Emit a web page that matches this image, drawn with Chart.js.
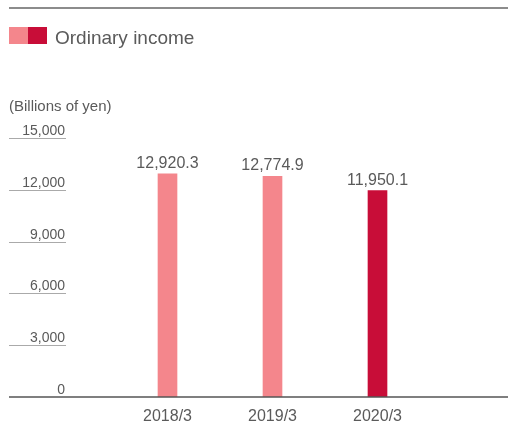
<!DOCTYPE html>
<html>
<head>
<meta charset="utf-8">
<script src="https://cdn.jsdelivr.net/npm/chart.js@4"></script>
<style>
  html, body { margin: 0; padding: 0; background: #fff; }
  #wrap { width: 508px; height: 423px; position: relative; }
</style>
</head>
<body>
<div id="wrap"><canvas id="ordinary_income_chart"></canvas></div>
<script>
// Data
const categories = ["2018/3", "2019/3", "2020/3"];
const ordinary_income = [12920.3, 12774.9, 11950.1];
const value_labels = ["12,920.3", "12,774.9", "11,950.1"];
const y_ticks = [0, 3000, 6000, 9000, 12000, 15000];
const legend_label = "Ordinary income";
const unit_label = "(Billions of yen)";

const light_red = "#f4868c";
const dark_red = "#c80d38";
const text_grey = "#5a5a5a";
const font_family = "'Liberation Sans', Arial, sans-serif";

// past years light, latest year dark
const bar_colors = categories.map((c, i) => (i == categories.length - 1) ? dark_red : light_red);

// draws the legend, unit label, short y grid lines and value labels
const decor_plugin = {
  id: "decor",
  afterDraw(chart) {
    const ctx = chart.ctx;
    const y = chart.scales.y;
    const w = chart.width;
    ctx.save();

    // top rule
    ctx.strokeStyle = "#666";
    ctx.lineWidth = 1.5;
    ctx.beginPath();
    ctx.moveTo(9, 8);
    ctx.lineTo(w, 8);
    ctx.stroke();

    // legend: two-tone swatch
    ctx.fillStyle = light_red;
    ctx.fillRect(9, 27, 19, 17);
    ctx.fillStyle = dark_red;
    ctx.fillRect(28, 27, 19, 17);
    ctx.fillStyle = text_grey;
    ctx.font = "19px " + font_family;
    ctx.textAlign = "left";
    ctx.textBaseline = "alphabetic";
    ctx.fillText(legend_label, 55, 44);

    // unit
    ctx.font = "15px " + font_family;
    ctx.fillText(unit_label, 9, 111);

    // y ticks: short lines with label on top
    ctx.font = "14px " + font_family;
    ctx.textAlign = "right";
    y_ticks.forEach(v => {
      const py = y.getPixelForValue(v);
      if (v == 0) {
        ctx.strokeStyle = "#555";
        ctx.lineWidth = 1.5;
        ctx.beginPath();
        ctx.moveTo(9, py);
        ctx.lineTo(w, py);
        ctx.stroke();
      } else {
        ctx.strokeStyle = "#aaa";
        ctx.lineWidth = 1;
        ctx.beginPath();
        ctx.moveTo(9, Math.round(py) + 0.5);
        ctx.lineTo(66, Math.round(py) + 0.5);
        ctx.stroke();
      }
      ctx.fillStyle = text_grey;
      ctx.fillText(v.toLocaleString("en-US"), 65, py - 3);
    });

    // value labels above bars
    ctx.font = "16px " + font_family;
    ctx.textAlign = "center";
    const meta = chart.getDatasetMeta(0);
    meta.data.forEach((bar, i) => {
      ctx.fillText(value_labels[i], bar.x, bar.y - 6);
    });

    ctx.restore();
  }
};

new Chart(document.getElementById("ordinary_income_chart").getContext("2d"), {
  type: "bar",
  data: {
    labels: categories,
    datasets: [{
      label: legend_label,
      data: ordinary_income,
      backgroundColor: bar_colors,
      borderWidth: 0,
      barThickness: 19
    }]
  },
  options: {
    responsive: true,
    maintainAspectRatio: false,
    animation: false,
    layout: { padding: { top: 138, left: 115, right: 78, bottom: 0 } },
    plugins: {
      legend: { display: false },
      tooltip: { enabled: false }
    },
    scales: {
      y: {
        display: false,
        min: 0,
        max: 15000
      },
      x: {
        grid: { display: false, drawTicks: false },
        border: { display: false },
        ticks: {
          color: text_grey,
          padding: 10,
          font: { size: 16, family: font_family }
        },
        afterFit(scale) { scale.height = 26; }
      }
    }
  },
  plugins: [decor_plugin]
});
</script>
</body>
</html>
